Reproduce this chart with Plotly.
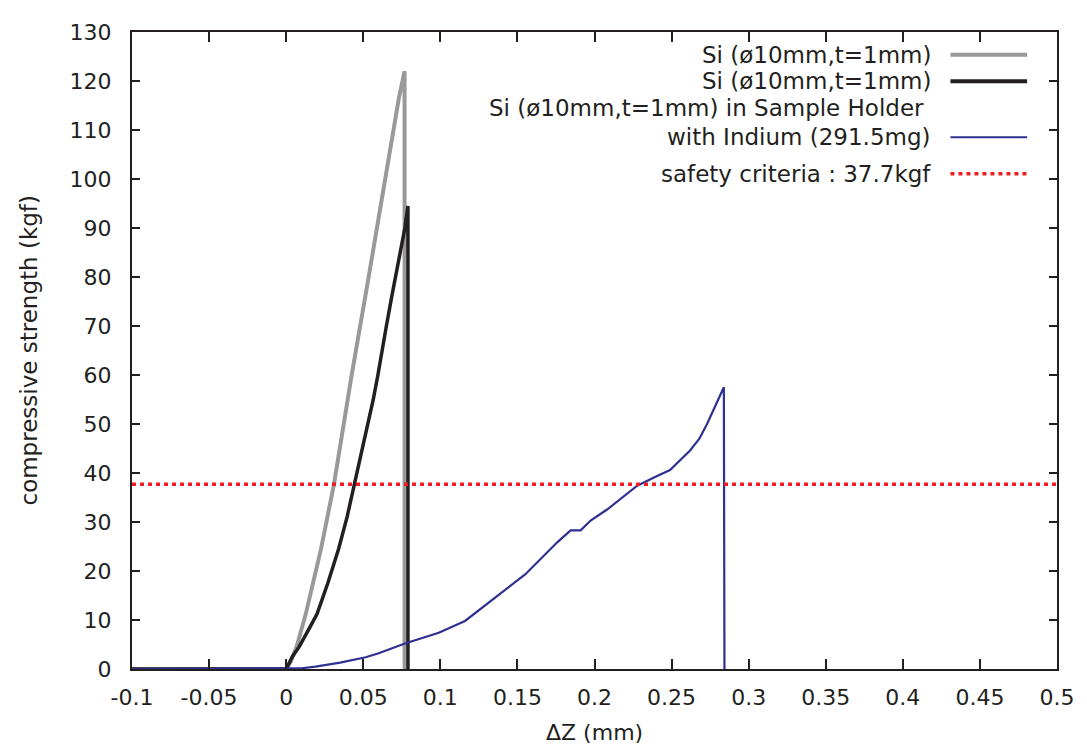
import plotly.graph_objects as go

# ---- data ----
si1_x = [-0.1, -0.02, 0.0, 0.003, 0.007, 0.0127, 0.0226, 0.031, 0.0425, 0.0535, 0.06, 0.0665, 0.073, 0.0768, 0.0768]
si1_y = [0, 0, 0, 1.5, 4.8, 11.2, 24.5, 37.7, 60, 80, 92, 104.3, 116.3, 122, 0]

si2_x = [-0.1, -0.02, 0.0, 0.004, 0.0084, 0.015, 0.02, 0.027, 0.034, 0.0395, 0.0445, 0.049, 0.053,
         0.0565, 0.0595, 0.0625, 0.065, 0.0686, 0.0717, 0.0748, 0.077, 0.079, 0.079]
si2_y = [0, 0, 0, 2.5, 4.5, 8.3, 11.2, 17.5, 24.5, 31, 38, 44, 50,
         55, 60, 65, 70, 76.2, 81, 86.2, 90, 94.5, 0]

in_x = [-0.1, 0.0, 0.01, 0.019, 0.035, 0.0516, 0.06, 0.077, 0.099, 0.116, 0.133, 0.155, 0.176,
        0.1845, 0.191, 0.1975, 0.2084, 0.2277, 0.2406, 0.249, 0.262, 0.268, 0.273, 0.278, 0.2839, 0.2843]
in_y = [0, 0, 0.15, 0.5, 1.3, 2.4, 3.2, 5.2, 7.4, 9.8, 13.9, 19.3, 25.9,
        28.3, 28.3, 30.3, 32.6, 37.4, 39.4, 40.6, 44.6, 47, 50, 53.3, 57.5, 0]

safety_x = [-0.1, 0.5]
safety_y = [37.7, 37.7]

x_ticks = [-0.1, -0.05, 0, 0.05, 0.1, 0.15, 0.2, 0.25, 0.3, 0.35, 0.4, 0.45, 0.5]
x_ticktext = ["-0.1", "-0.05", "0", "0.05", "0.1", "0.15", "0.2", "0.25", "0.3", "0.35", "0.4", "0.45", "0.5"]
y_ticks = list(range(0, 131, 10))

legend_labels = ["Si (ø10mm,t=1mm)", "Si (ø10mm,t=1mm)",
                 "Si (ø10mm,t=1mm) in Sample Holder", "with Indium (291.5mg)",
                 "safety criteria : 37.7kgf"]

GRAY = "#999999"
BLACK = "#231f20"
BLUE = "#2e3192"
RED = "#ed1c24"
FONT = "DejaVu Sans"

fig = go.Figure()
fig.add_trace(go.Scatter(x=si1_x, y=si1_y, mode="lines", line=dict(color=GRAY, width=4), showlegend=False))
fig.add_trace(go.Scatter(x=si2_x, y=si2_y, mode="lines", line=dict(color=BLACK, width=3.5), showlegend=False))
fig.add_trace(go.Scatter(x=in_x, y=in_y, mode="lines", line=dict(color=BLUE, width=2.2), showlegend=False))
fig.add_trace(go.Scatter(x=safety_x, y=safety_y, mode="lines",
                         line=dict(color=RED, width=3.5, dash="4px,4px"), showlegend=False))

# page has an 8px body margin: figure is drawn at (8, 8)
OFF = 8
W, H = 1087 - OFF, 745 - OFF
PL, PR, PT, PB = 132, 1061, 22, 669   # plot area in window pixels
L, T = PL - OFF, PT - OFF
R, B = W - (PR - OFF), H - (PB - OFF)

def px(xa):
    return (xa - PL) / (PR - PL)

def py(ya):
    return (PB - ya) / (PB - PT)

# custom gnuplot-like legend (text right aligned, sample on the right)
text_right = px(936)
samp0, samp1 = px(954), px(1031)
rows = [(legend_labels[0], 45, GRAY, 4, None, 0),
        (legend_labels[1], 72, BLACK, 4, None, 0),
        (legend_labels[2], 99, None, 0, None, -7),
        (legend_labels[3], 129, BLUE, 2, None, 0),
        (legend_labels[4], 166, RED, 3.5, "4px,4px", 0)]
annotations = []
shapes = []
for txt, yp, col, w, dash, xs in rows:
    annotations.append(dict(text=txt, x=text_right, y=py(yp), xref="paper", yref="paper",
                            xanchor="right", yanchor="middle", showarrow=False, xshift=xs,
                            font=dict(family=FONT, size=23, color=BLACK)))
    if col:
        shapes.append(dict(type="line", xref="paper", yref="paper", x0=samp0, x1=samp1,
                           y0=py(yp), y1=py(yp),
                           line=dict(color=col, width=w, dash=dash if dash else "solid")))

# axis titles
annotations.append(dict(text="ΔZ (mm)", x=0.5, y=0, xref="paper", yref="paper", yshift=-(732 - PB),
                        xanchor="center", yanchor="middle", showarrow=False,
                        font=dict(family=FONT, size=22, color=BLACK)))
annotations.append(dict(text="compressive strength (kgf)", x=0, y=0.5, xref="paper", yref="paper",
                        xshift=-(PL - 28), xanchor="center", yanchor="middle", textangle=-90,
                        showarrow=False, font=dict(family=FONT, size=23, color=BLACK)))

fig.update_layout(
    width=W, height=H,
    margin=dict(l=L, r=R, t=T, b=B),
    paper_bgcolor="white", plot_bgcolor="white",
    font=dict(family=FONT, size=22, color=BLACK),
    annotations=annotations, shapes=shapes,
    showlegend=False,
)
fig.update_xaxes(range=[-0.1, 0.5], tickvals=x_ticks, ticktext=x_ticktext,
                 ticks="inside", ticklen=10, tickwidth=1.5, tickcolor=BLACK,
                 showline=True, linecolor=BLACK, linewidth=2, mirror="allticks",
                 showgrid=False, zeroline=False, ticklabelstandoff=8)
fig.update_yaxes(range=[0, 130], tickvals=y_ticks,
                 ticks="inside", ticklen=8, tickwidth=1.5, tickcolor=BLACK,
                 showline=True, linecolor=BLACK, linewidth=2, mirror="allticks",
                 showgrid=False, zeroline=False, ticklabelstandoff=14)

fig.write_html("out.html")
